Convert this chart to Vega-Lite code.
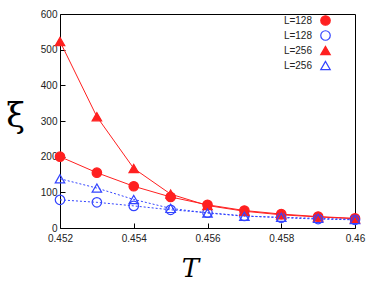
{
  "$schema": "https://vega.github.io/schema/vega-lite/v6.json",
  "width": 295,
  "height": 214,
  "autosize": "none",
  "padding": {"left": 60, "top": 14, "right": 19, "bottom": 57},
  "background": "white",
  "config": {"view": {"stroke": "black", "strokeWidth": 1}, "font": "Liberation Sans"},
  "data": {"values": [
    {"T": 0.452, "xi": 200, "s": "a"}, {"T": 0.453, "xi": 155, "s": "a"}, {"T": 0.454, "xi": 117, "s": "a"},
    {"T": 0.455, "xi": 87, "s": "a"}, {"T": 0.456, "xi": 65, "s": "a"}, {"T": 0.457, "xi": 49, "s": "a"},
    {"T": 0.458, "xi": 39, "s": "a"}, {"T": 0.459, "xi": 32, "s": "a"}, {"T": 0.46, "xi": 27, "s": "a"},
    {"T": 0.452, "xi": 79, "s": "b"}, {"T": 0.453, "xi": 72, "s": "b"}, {"T": 0.454, "xi": 62, "s": "b"},
    {"T": 0.455, "xi": 51, "s": "b"}, {"T": 0.456, "xi": 43, "s": "b"}, {"T": 0.457, "xi": 34, "s": "b"},
    {"T": 0.458, "xi": 29, "s": "b"}, {"T": 0.459, "xi": 25, "s": "b"}, {"T": 0.46, "xi": 23, "s": "b"},
    {"T": 0.452, "xi": 523, "s": "c"}, {"T": 0.453, "xi": 312, "s": "c"}, {"T": 0.454, "xi": 167, "s": "c"},
    {"T": 0.455, "xi": 95, "s": "c"}, {"T": 0.456, "xi": 63, "s": "c"}, {"T": 0.457, "xi": 47, "s": "c"},
    {"T": 0.458, "xi": 37, "s": "c"}, {"T": 0.459, "xi": 31, "s": "c"}, {"T": 0.46, "xi": 26, "s": "c"},
    {"T": 0.452, "xi": 138, "s": "d"}, {"T": 0.453, "xi": 112, "s": "d"}, {"T": 0.454, "xi": 80, "s": "d"},
    {"T": 0.455, "xi": 55, "s": "d"}, {"T": 0.456, "xi": 42, "s": "d"}, {"T": 0.457, "xi": 33, "s": "d"},
    {"T": 0.458, "xi": 30, "s": "d"}, {"T": 0.459, "xi": 27, "s": "d"}, {"T": 0.46, "xi": 24, "s": "d"}
  ]},
  "encoding": {
    "x": {"field": "T", "type": "quantitative", "scale": {"domain": [0.452, 0.46], "nice": false, "zero": false},
      "axis": {"values": [0.452, 0.454, 0.456, 0.458, 0.46], "format": "~g", "grid": false, "tickSize": -5, "labelPadding": 10, "labelFlush": false,
        "labelFontSize": 10, "labelColor": "#222", "domain": false, "tickColor": "black",
        "title": "T", "titleFont": "DejaVu Serif", "titleFontStyle": "italic", "titleFontWeight": "normal", "titleFontSize": 26,
        "titleX": 130, "titleY": 48, "titleBaseline": "alphabetic"}},
    "y": {"field": "xi", "type": "quantitative", "scale": {"domain": [0, 600], "nice": false},
      "axis": {"values": [0, 100, 200, 300, 400, 500, 600], "grid": false, "tickSize": -5, "labelPadding": 8,
        "labelFontSize": 10, "labelColor": "#222", "domain": false, "tickColor": "black",
        "title": "ξ", "titleFont": "DejaVu Serif", "titleFontWeight": "normal", "titleFontSize": 34, "titleAngle": 0,
        "titleX": -45, "titleY": 102, "titleAlign": "center", "titleBaseline": "middle"}}
  },
  "layer": [
    {
      "transform": [{"filter": "datum.s == 'a' || datum.s == 'c'"}],
      "mark": {"type": "line", "strokeWidth": 1},
      "encoding": {
        "stroke": {"field": "s", "type": "nominal", "scale": {"domain": ["a", "b", "c", "d"], "range": ["#ff2020", "#3344ff", "#ff2020", "#3344ff"]},
          "legend": {"orient": "none", "legendX": 260, "legendY": 1, "title": null, "labelExpr": "datum.value == 'a' || datum.value == 'b' ? 'L=128' : 'L=256'", "labelFontSize": 10, "labelColor": "#222", "rowPadding": 0, "symbolSize": 90, "padding": 0, "symbolStrokeWidth": 1.2, "labelAlign": "right", "labelOffset": -19}}
      }
    },
    {
      "transform": [{"filter": "datum.s == 'b' || datum.s == 'd'"}],
      "mark": {"type": "line", "strokeWidth": 1, "strokeDash": [2, 2]},
      "encoding": {
        "stroke": {"field": "s", "type": "nominal", "scale": {"domain": ["a", "b", "c", "d"], "range": ["#ff2020", "#3344ff", "#ff2020", "#3344ff"]},
          "legend": {"orient": "none", "legendX": 260, "legendY": 1, "title": null, "labelExpr": "datum.value == 'a' || datum.value == 'b' ? 'L=128' : 'L=256'", "labelFontSize": 10, "labelColor": "#222", "rowPadding": 0, "symbolSize": 90, "padding": 0, "symbolStrokeWidth": 1.2, "labelAlign": "right", "labelOffset": -19}}
      }
    },
    {
      "mark": {"type": "point", "strokeWidth": 1.2, "opacity": 1, "size": 90},
      "encoding": {
        "shape": {"field": "s", "type": "nominal", "scale": {"domain": ["a", "b", "c", "d"], "range": ["circle", "circle", "triangle-up", "triangle-up"]},
          "legend": {"orient": "none", "legendX": 260, "legendY": 1, "title": null, "labelExpr": "datum.value == 'a' || datum.value == 'b' ? 'L=128' : 'L=256'", "labelFontSize": 10, "labelColor": "#222", "rowPadding": 0, "symbolSize": 90, "padding": 0, "symbolStrokeWidth": 1.2, "labelAlign": "right", "labelOffset": -19}},
        "stroke": {"field": "s", "type": "nominal", "scale": {"domain": ["a", "b", "c", "d"], "range": ["#ff2020", "#3344ff", "#ff2020", "#3344ff"]},
          "legend": {"orient": "none", "legendX": 260, "legendY": 1, "title": null, "labelExpr": "datum.value == 'a' || datum.value == 'b' ? 'L=128' : 'L=256'", "labelFontSize": 10, "labelColor": "#222", "rowPadding": 0, "symbolSize": 90, "padding": 0, "symbolStrokeWidth": 1.2, "labelAlign": "right", "labelOffset": -19}},
        "fill": {"field": "s", "type": "nominal", "scale": {"domain": ["a", "b", "c", "d"], "range": ["#ff2020", "transparent", "#ff2020", "transparent"]},
          "legend": {"orient": "none", "legendX": 260, "legendY": 1, "title": null, "labelExpr": "datum.value == 'a' || datum.value == 'b' ? 'L=128' : 'L=256'", "labelFontSize": 10, "labelColor": "#222", "rowPadding": 0, "symbolSize": 90, "padding": 0, "symbolStrokeWidth": 1.2, "labelAlign": "right", "labelOffset": -19}}
      }
    }
  ]
}
